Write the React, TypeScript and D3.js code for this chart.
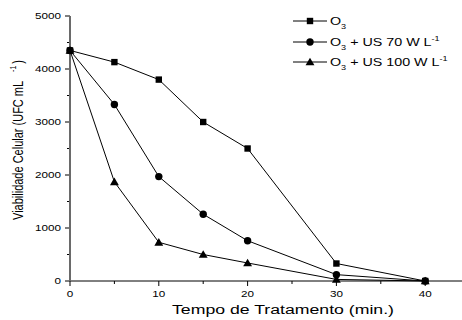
import React, { useEffect } from 'react';
import * as d3 from 'd3';

// treatment time (min.)
const times = [0, 5, 10, 15, 20, 30, 40];
// cell viability (UFC mL-1)
const o3 = [4350, 4130, 3800, 3000, 2500, 330, 0];
const o3us70 = [4350, 3330, 1970, 1260, 760, 120, 0];
const o3us100 = [4350, 1870, 730, 500, 340, 30, 0];

const yTicks = [0, 1000, 2000, 3000, 4000, 5000];
const xTicks = [0, 10, 20, 30, 40];

const W = 462;
const H = 320;
const SX = 1.3; // glyphs in the reference are wider than tall
const FONT = '"Liberation Sans", Arial, sans-serif';

type Shape = 'square' | 'circle' | 'triangle';

function Marker({ x, y, shape }: { x: number; y: number; shape: Shape }) {
  if (shape === 'square') return <rect x={x - 3.2} y={y - 3.2} width={6.4} height={6.4} fill="#000" />;
  if (shape === 'circle') return <circle cx={x} cy={y} r={3.7} fill="#000" />;
  const sym = d3.symbol(d3.symbolTriangle, 34)();
  return <path d={sym || ''} transform={`translate(${x},${y + 0.8})`} fill="#000" />;
}

function SText(props: { x: number; y: number; size: number; anchor?: string; children: React.ReactNode }) {
  const { x, y, size, anchor = 'start', children } = props;
  return (
    <text transform={`translate(${x},${y}) scale(${SX},1)`} fontSize={size} textAnchor={anchor}
      fontFamily={FONT} fill="#000">
      {children}
    </text>
  );
}

export default function App() {
  useEffect(() => {
    document.body.style.margin = '0';
  }, []);

  const x = d3.scaleLinear().domain([0, 45]).range([70, 469.6]);
  const y = d3.scaleLinear().domain([0, 5000]).range([281, 16]);

  const line = d3.line<number>()
    .x((_, i) => x(times[i]))
    .y((d) => y(d));

  const series: { name: string; values: number[]; shape: Shape; label: React.ReactNode }[] = [
    {
      name: 'o3', values: o3, shape: 'square',
      label: <>O<tspan fontSize={7} dy={4}>3</tspan></>,
    },
    {
      name: 'o3us70', values: o3us70, shape: 'circle',
      label: <>O<tspan fontSize={7} dy={4}>3</tspan><tspan dy={-4}> + US 70 W L</tspan><tspan fontSize={7} dy={-5}>-1</tspan></>,
    },
    {
      name: 'o3us100', values: o3us100, shape: 'triangle',
      label: <>O<tspan fontSize={7} dy={4}>3</tspan><tspan dy={-4}> + US 100 W L</tspan><tspan fontSize={7} dy={-5}>-1</tspan></>,
    },
  ];

  const xMinor = d3.range(5, 45, 10);
  const yMinor = d3.range(500, 5000, 1000);
  const legendY = [21, 42, 62];

  return (
    <svg width={W} height={H} style={{ display: 'block', background: '#fff' }}>
      {/* x axis */}
      <line x1={x(0)} x2={W} y1={y(0)} y2={y(0)} stroke="#000" strokeWidth={1} />
      {xTicks.map((t) => (
        <g key={'xt' + t}>
          <line x1={x(t)} x2={x(t)} y1={y(0)} y2={y(0) + 5} stroke="#000" />
          <SText x={x(t)} y={297} size={9} anchor="middle">{t}</SText>
        </g>
      ))}
      {xMinor.map((t) => (
        <line key={'xm' + t} x1={x(t)} x2={x(t)} y1={y(0)} y2={y(0) + 3} stroke="#000" />
      ))}

      {/* y axis */}
      {yTicks.map((t) => (
        <g key={'yt' + t}>
          <line x1={x(0) - 5} x2={x(0)} y1={y(t)} y2={y(t)} stroke="#000" />
          <SText x={61} y={y(t) + 3.2} size={9} anchor="end">{t}</SText>
        </g>
      ))}
      {yMinor.map((t) => (
        <line key={'ym' + t} x1={x(0) - 3} x2={x(0)} y1={y(t)} y2={y(t)} stroke="#000" />
      ))}
      <line x1={x(0)} x2={x(0)} y1={y(5000)} y2={y(0)} stroke="#6a6a6a" strokeWidth={2} />

      {/* axis titles */}
      <text x={172} y={314} fontSize={12} textLength={222} lengthAdjust="spacingAndGlyphs" fontFamily={FONT}>
        Tempo de Tratamento (min.)
      </text>
      <text transform={`translate(22.5,220) scale(${SX},1) rotate(-90)`} fontSize={11} fontFamily={FONT}>
        Viabilidade Celular (UFC mL<tspan fontSize={7} dx={9} dy={-5}>-1</tspan><tspan dx={2} dy={5}>)</tspan>
      </text>

      {/* series */}
      {series.map((s) => (
        <g key={s.name}>
          <path d={line(s.values) || ''} fill="none" stroke="#000" strokeWidth={1} />
          {s.values.map((v, i) => (
            <Marker key={i} x={x(times[i])} y={y(v)} shape={s.shape} />
          ))}
        </g>
      ))}

      {/* legend */}
      {series.map((s, i) => (
        <g key={'lg' + s.name}>
          <line x1={293} x2={327} y1={legendY[i]} y2={legendY[i]} stroke="#000" />
          <Marker x={310} y={legendY[i]} shape={s.shape} />
          <SText x={330} y={legendY[i] + 4} size={11}>{s.label}</SText>
        </g>
      ))}
    </svg>
  );
}
